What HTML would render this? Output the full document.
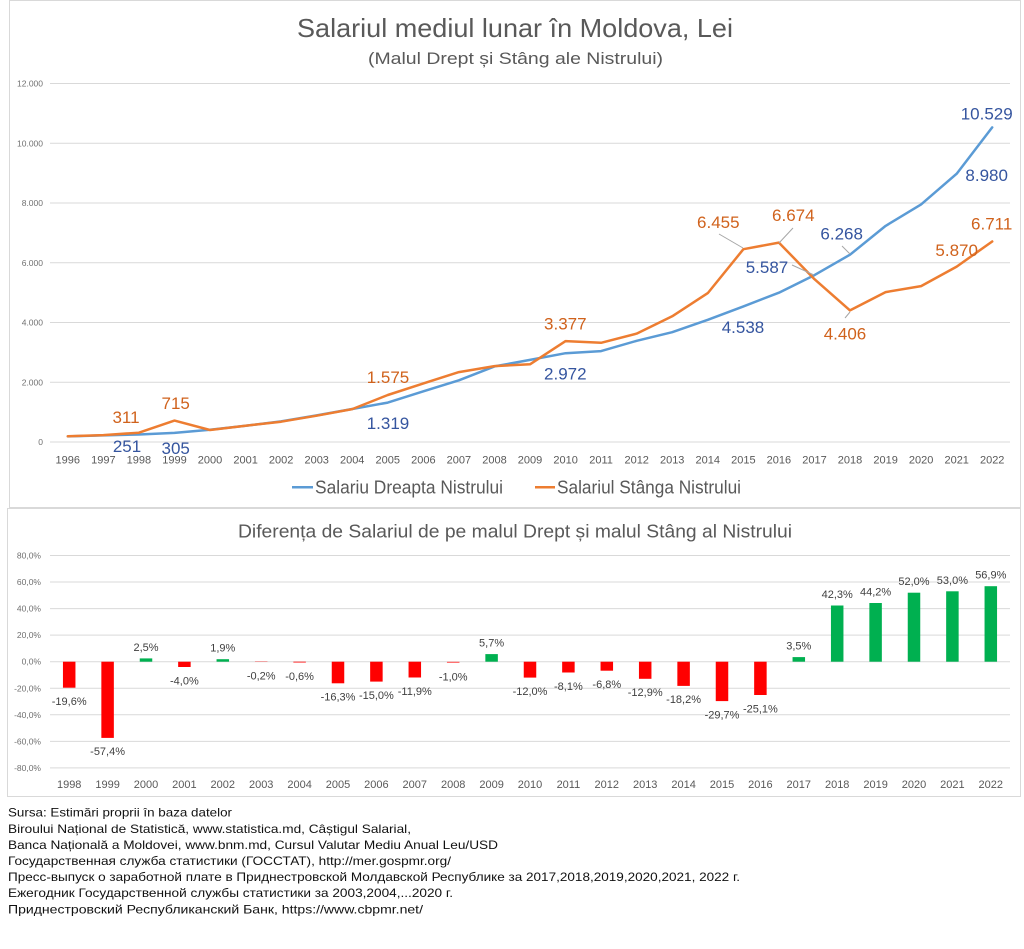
<!DOCTYPE html>
<html><head><meta charset="utf-8"><style>
html,body{margin:0;padding:0;background:#fff;}
svg{display:block;}
text{font-family:"Liberation Sans","DejaVu Sans",sans-serif;}
</style></head><body>
<svg width="1024" height="949" viewBox="0 0 1024 949" xmlns="http://www.w3.org/2000/svg">
<rect x="0" y="0" width="1024" height="949" fill="#fff"/>
<!-- chart boxes -->
<rect x="9.5" y="0.5" width="1011" height="507" fill="#fff" stroke="#D9D9D9" stroke-width="1"/>
<rect x="7.5" y="508.5" width="1013" height="288" fill="#fff" stroke="#D9D9D9" stroke-width="1"/>

<!-- top titles -->
<text x="297" y="37" font-size="26" fill="#595959" textLength="436" lengthAdjust="spacingAndGlyphs">Salariul mediul lunar în Moldova, Lei</text>
<text x="368" y="64" font-size="17" fill="#595959" textLength="295" lengthAdjust="spacingAndGlyphs">(Malul Drept și Stâng ale Nistrului)</text>

<!-- top gridlines -->
<g stroke="#D9D9D9" stroke-width="1">
<line x1="50" y1="83.5" x2="1010" y2="83.5"/>
<line x1="50" y1="143.3" x2="1010" y2="143.3"/>
<line x1="50" y1="203" x2="1010" y2="203"/>
<line x1="50" y1="262.8" x2="1010" y2="262.8"/>
<line x1="50" y1="322.5" x2="1010" y2="322.5"/>
<line x1="50" y1="382.3" x2="1010" y2="382.3"/>
<line x1="50" y1="442" x2="1010" y2="442"/>
</g>
<g font-size="8.5" fill="#707070" text-anchor="end">
<text x="43" y="86.5">12.000</text>
<text x="43" y="146.3">10.000</text>
<text x="43" y="206">8.000</text>
<text x="43" y="265.8">6.000</text>
<text x="43" y="325.5">4.000</text>
<text x="43" y="385.3">2.000</text>
<text x="43" y="445">0</text>
</g>
<g font-size="11" fill="#595959" text-anchor="middle">
<text x="67.8" y="463.3">1996</text><text x="103.4" y="463.3">1997</text><text x="138.9" y="463.3">1998</text><text x="174.5" y="463.3">1999</text><text x="210.0" y="463.3">2000</text><text x="245.6" y="463.3">2001</text><text x="281.1" y="463.3">2002</text><text x="316.7" y="463.3">2003</text><text x="352.2" y="463.3">2004</text><text x="387.8" y="463.3">2005</text><text x="423.4" y="463.3">2006</text><text x="458.9" y="463.3">2007</text><text x="494.5" y="463.3">2008</text><text x="530.0" y="463.3">2009</text><text x="565.6" y="463.3">2010</text><text x="601.1" y="463.3">2011</text><text x="636.7" y="463.3">2012</text><text x="672.2" y="463.3">2013</text><text x="707.8" y="463.3">2014</text><text x="743.4" y="463.3">2015</text><text x="778.9" y="463.3">2016</text><text x="814.5" y="463.3">2017</text><text x="850.0" y="463.3">2018</text><text x="885.6" y="463.3">2019</text><text x="921.1" y="463.3">2020</text><text x="956.7" y="463.3">2021</text><text x="992.2" y="463.3">2022</text>
</g>

<!-- series -->
<polyline fill="none" stroke="#5B9BD5" stroke-width="2.5" stroke-linejoin="round" stroke-linecap="round" points="67.8,436.4 103.4,435.4 138.9,434.5 174.5,432.9 210.0,429.8 245.6,425.8 281.1,421.4 316.7,415.4 352.2,409.0 387.8,402.6 423.4,391.3 458.9,380.3 494.5,366.4 530.0,359.9 565.6,353.2 601.1,351.1 636.7,340.8 672.2,332.2 707.8,319.8 743.4,306.4 778.9,292.7 814.5,275.1 850.0,254.7 885.6,225.9 921.1,204.4 956.7,173.7 992.2,127.4"/>
<polyline fill="none" stroke="#ED7D31" stroke-width="2.5" stroke-linejoin="round" stroke-linecap="round" points="67.8,436.3 103.4,435.1 138.9,432.7 174.5,420.6 210.0,430.0 245.6,425.7 281.1,421.7 316.7,415.7 352.2,409.1 387.8,395.0 423.4,383.4 458.9,372.1 494.5,366.1 530.0,364.3 565.6,341.1 601.1,342.8 636.7,333.6 672.2,316.3 707.8,293.1 743.4,249.2 778.9,242.6 814.5,279.2 850.0,310.4 885.6,292.1 921.1,286.1 956.7,266.6 992.2,241.5"/>

<!-- leader lines -->
<g stroke="#A6A6A6" stroke-width="1">
<line x1="845" y1="318" x2="850" y2="312"/>
<line x1="792" y1="265" x2="814" y2="275"/>
<line x1="719" y1="234" x2="743" y2="248"/>
<line x1="793" y1="228" x2="779" y2="243"/>
<line x1="842" y1="246" x2="850" y2="254"/>
</g>

<!-- data labels -->
<g font-size="17" text-anchor="middle" fill="#D0621C">
<text x="126" y="422.8">311</text>
<text x="175.7" y="408.8">715</text>
<text x="388" y="383">1.575</text>
<text x="565.3" y="329.4">3.377</text>
<text x="845" y="339.4">4.406</text>
<text x="718.3" y="227.8">6.455</text>
<text x="793.3" y="221">6.674</text>
<text x="956.7" y="256">5.870</text>
<text x="991.7" y="229.4">6.711</text>
</g>
<g font-size="17" text-anchor="middle" fill="#35559F">
<text x="127" y="452">251</text>
<text x="175.7" y="454">305</text>
<text x="388" y="428.8">1.319</text>
<text x="565.3" y="379.4">2.972</text>
<text x="743" y="332.8">4.538</text>
<text x="767" y="272.8">5.587</text>
<text x="841.7" y="239.4">6.268</text>
<text x="986.7" y="181">8.980</text>
<text x="986.7" y="119.4">10.529</text>
</g>

<!-- legend -->
<line x1="292" y1="487.3" x2="313" y2="487.3" stroke="#5B9BD5" stroke-width="2.5"/>
<text x="315" y="493.3" font-size="18" fill="#595959" textLength="188" lengthAdjust="spacingAndGlyphs">Salariu Dreapta Nistrului</text>
<line x1="535" y1="487.3" x2="555" y2="487.3" stroke="#ED7D31" stroke-width="2.5"/>
<text x="557" y="493.3" font-size="18" fill="#595959" textLength="184" lengthAdjust="spacingAndGlyphs">Salariul Stânga Nistrului</text>

<!-- bottom chart -->
<text x="238" y="537.3" font-size="18" fill="#595959" textLength="554" lengthAdjust="spacingAndGlyphs">Diferența de Salariul de pe malul Drept și malul Stâng al Nistrului</text>
<g stroke="#D9D9D9" stroke-width="1">
<line x1="50" y1="555.5" x2="1010" y2="555.5"/>
<line x1="50" y1="582" x2="1010" y2="582"/>
<line x1="50" y1="608.6" x2="1010" y2="608.6"/>
<line x1="50" y1="635.1" x2="1010" y2="635.1"/>
<line x1="50" y1="661.7" x2="1010" y2="661.7"/>
<line x1="50" y1="688.3" x2="1010" y2="688.3"/>
<line x1="50" y1="714.8" x2="1010" y2="714.8"/>
<line x1="50" y1="741.4" x2="1010" y2="741.4"/>
<line x1="50" y1="767.9" x2="1010" y2="767.9"/>
</g>
<g font-size="8.5" fill="#707070" text-anchor="end">
<text x="41" y="558.5">80,0%</text>
<text x="41" y="585">60,0%</text>
<text x="41" y="611.6">40,0%</text>
<text x="41" y="638.1">20,0%</text>
<text x="41" y="664.7">0,0%</text>
<text x="41" y="691.3">-20,0%</text>
<text x="41" y="717.8">-40,0%</text>
<text x="41" y="744.4">-60,0%</text>
<text x="41" y="770.9">-80,0%</text>
</g>

<g fill="#FF0000">
<rect x="62.95" y="661.7" width="12.5" height="26.0"/>
<rect x="101.35" y="661.7" width="12.5" height="76.2"/>
<rect x="178.15" y="661.7" width="12.5" height="5.3"/>
<rect x="254.95" y="661.7" width="12.5" height="0.3"/>
<rect x="293.35" y="661.7" width="12.5" height="0.8"/>
<rect x="331.75" y="661.7" width="12.5" height="21.6"/>
<rect x="370.15" y="661.7" width="12.5" height="19.9"/>
<rect x="408.55" y="661.7" width="12.5" height="15.8"/>
<rect x="446.95" y="661.7" width="12.5" height="1.3" fill="#FF7070"/>
<rect x="523.75" y="661.7" width="12.5" height="15.9"/>
<rect x="562.15" y="661.7" width="12.5" height="10.8"/>
<rect x="600.55" y="661.7" width="12.5" height="9.0"/>
<rect x="638.95" y="661.7" width="12.5" height="17.1"/>
<rect x="677.35" y="661.7" width="12.5" height="24.2"/>
<rect x="715.75" y="661.7" width="12.5" height="39.4"/>
<rect x="754.15" y="661.7" width="12.5" height="33.3"/>
</g>
<g fill="#00B050">
<rect x="139.75" y="658.4" width="12.5" height="3.3"/>
<rect x="216.55" y="659.2" width="12.5" height="2.5"/>
<rect x="485.35" y="654.1" width="12.5" height="7.6"/>
<rect x="792.55" y="657.1" width="12.5" height="4.6"/>
<rect x="830.95" y="605.5" width="12.5" height="56.2"/>
<rect x="869.35" y="603.0" width="12.5" height="58.7"/>
<rect x="907.75" y="592.7" width="12.5" height="69.0"/>
<rect x="946.15" y="591.3" width="12.5" height="70.4"/>
<rect x="984.55" y="586.2" width="12.5" height="75.5"/>
</g>

<g font-size="11" fill="#404040" text-anchor="middle">
<text x="69.2" y="705.0">-19,6%</text>
<text x="107.6" y="755.2">-57,4%</text>
<text x="146.0" y="650.9">2,5%</text>
<text x="184.4" y="684.3">-4,0%</text>
<text x="222.8" y="651.7">1,9%</text>
<text x="261.2" y="679.3">-0,2%</text>
<text x="299.6" y="679.8">-0,6%</text>
<text x="338.0" y="700.6">-16,3%</text>
<text x="376.4" y="698.9">-15,0%</text>
<text x="414.8" y="694.8">-11,9%</text>
<text x="453.2" y="680.3">-1,0%</text>
<text x="491.6" y="646.6">5,7%</text>
<text x="530.0" y="694.9">-12,0%</text>
<text x="568.4" y="689.8">-8,1%</text>
<text x="606.8" y="688.0">-6,8%</text>
<text x="645.2" y="696.1">-12,9%</text>
<text x="683.6" y="703.2">-18,2%</text>
<text x="722.0" y="718.4">-29,7%</text>
<text x="760.4" y="712.3">-25,1%</text>
<text x="798.8" y="649.6">3,5%</text>
<text x="837.2" y="598.0">42,3%</text>
<text x="875.6" y="595.5">44,2%</text>
<text x="914.0" y="585.2">52,0%</text>
<text x="952.4" y="583.8">53,0%</text>
<text x="990.8" y="578.7">56,9%</text>
</g>

<g font-size="11" fill="#595959" text-anchor="middle">
<text x="69.2" y="788">1998</text><text x="107.6" y="788">1999</text><text x="146.0" y="788">2000</text><text x="184.4" y="788">2001</text><text x="222.8" y="788">2002</text><text x="261.2" y="788">2003</text><text x="299.6" y="788">2004</text><text x="338.0" y="788">2005</text><text x="376.4" y="788">2006</text><text x="414.8" y="788">2007</text><text x="453.2" y="788">2008</text><text x="491.6" y="788">2009</text><text x="530.0" y="788">2010</text><text x="568.4" y="788">2011</text><text x="606.8" y="788">2012</text><text x="645.2" y="788">2013</text><text x="683.6" y="788">2014</text><text x="722.0" y="788">2015</text><text x="760.4" y="788">2016</text><text x="798.8" y="788">2017</text><text x="837.2" y="788">2018</text><text x="875.6" y="788">2019</text><text x="914.0" y="788">2020</text><text x="952.4" y="788">2021</text><text x="990.8" y="788">2022</text>
</g>

<!-- footer -->
<g font-size="12" fill="#111">
<text x="8" y="816.7" textLength="224" lengthAdjust="spacingAndGlyphs">Sursa: Estimări proprii în baza datelor</text>
<text x="8" y="832.8" textLength="403" lengthAdjust="spacingAndGlyphs">Biroului Național de Statistică, www.statistica.md, Câștigul Salarial,</text>
<text x="8" y="848.9" textLength="490" lengthAdjust="spacingAndGlyphs">Banca Națională a Moldovei, www.bnm.md, Cursul Valutar Mediu Anual Leu/USD</text>
<text x="8" y="865" textLength="443" lengthAdjust="spacingAndGlyphs">Государственная служба статистики (ГОССТАТ), http://mer.gospmr.org/</text>
<text x="8" y="881.1" textLength="732" lengthAdjust="spacingAndGlyphs">Пресс-выпуск о заработной плате в Приднестровской Молдавской Республике за 2017,2018,2019,2020,2021, 2022 г.</text>
<text x="8" y="897.2" textLength="445" lengthAdjust="spacingAndGlyphs">Ежегодник Государственной службы статистики за 2003,2004,...2020 г.</text>
<text x="8" y="913.3" textLength="415" lengthAdjust="spacingAndGlyphs">Приднестровский Республиканский Банк, https://www.cbpmr.net/</text>
</g>
</svg>
</body></html>
